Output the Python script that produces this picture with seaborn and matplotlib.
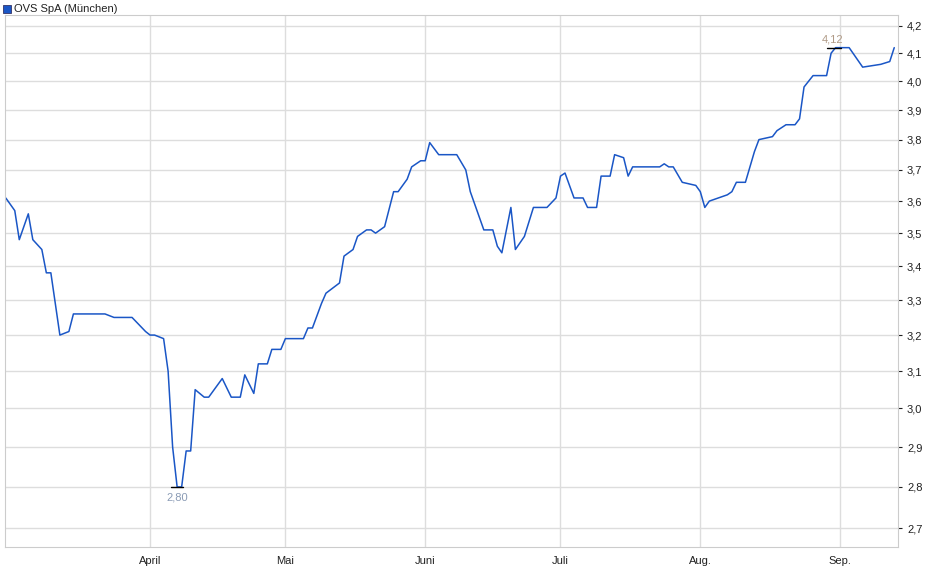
import pandas as pd
import numpy as np
import seaborn as sns
import matplotlib.pyplot as plt
import matplotlib.dates as mdates
from matplotlib.ticker import FixedLocator, NullLocator

dates = [
    "2023-02-28", "2023-03-01", "2023-03-02", "2023-03-03", "2023-03-05", "2023-03-06",
    "2023-03-08", "2023-03-09", "2023-03-10", "2023-03-12", "2023-03-14", "2023-03-15",
    "2023-03-22", "2023-03-24", "2023-03-28", "2023-03-31", "2023-04-01", "2023-04-02",
    "2023-04-04", "2023-04-05", "2023-04-06", "2023-04-07", "2023-04-08", "2023-04-09",
    "2023-04-10", "2023-04-11", "2023-04-13", "2023-04-14", "2023-04-17", "2023-04-19",
    "2023-04-21", "2023-04-22", "2023-04-24", "2023-04-25", "2023-04-27", "2023-04-28",
    "2023-04-30", "2023-05-01", "2023-05-05", "2023-05-06", "2023-05-07", "2023-05-09",
    "2023-05-10", "2023-05-12", "2023-05-13", "2023-05-14", "2023-05-15", "2023-05-16",
    "2023-05-17", "2023-05-19", "2023-05-20", "2023-05-21", "2023-05-23", "2023-05-25",
    "2023-05-26", "2023-05-28", "2023-05-29", "2023-05-31", "2023-06-01", "2023-06-02",
    "2023-06-04", "2023-06-08", "2023-06-10", "2023-06-11", "2023-06-14", "2023-06-16",
    "2023-06-17", "2023-06-18", "2023-06-20", "2023-06-21", "2023-06-23", "2023-06-25",
    "2023-06-28", "2023-06-30", "2023-07-01", "2023-07-02", "2023-07-04", "2023-07-06",
    "2023-07-07", "2023-07-09", "2023-07-10", "2023-07-12", "2023-07-13", "2023-07-15",
    "2023-07-16", "2023-07-17", "2023-07-23", "2023-07-24", "2023-07-25", "2023-07-26",
    "2023-07-28", "2023-07-31", "2023-08-01", "2023-08-02", "2023-08-03", "2023-08-05",
    "2023-08-07", "2023-08-08", "2023-08-09", "2023-08-11", "2023-08-13", "2023-08-14",
    "2023-08-17", "2023-08-18", "2023-08-20", "2023-08-22", "2023-08-23", "2023-08-24",
    "2023-08-26", "2023-08-29", "2023-08-30", "2023-08-31", "2023-09-03", "2023-09-06",
    "2023-09-10", "2023-09-12", "2023-09-13",
]
prices = [
    3.61, 3.59, 3.57, 3.48, 3.56, 3.48,
    3.45, 3.38, 3.38, 3.20, 3.21, 3.26,
    3.26, 3.25, 3.25, 3.21, 3.20, 3.20,
    3.19, 3.10, 2.90, 2.80, 2.80, 2.89,
    2.89, 3.05, 3.03, 3.03, 3.08, 3.03,
    3.03, 3.09, 3.04, 3.12, 3.12, 3.16,
    3.16, 3.19, 3.19, 3.22, 3.22, 3.29,
    3.32, 3.34, 3.35, 3.43, 3.44, 3.45,
    3.49, 3.51, 3.51, 3.50, 3.52, 3.63,
    3.63, 3.67, 3.71, 3.73, 3.73, 3.79,
    3.75, 3.75, 3.70, 3.63, 3.51, 3.51,
    3.46, 3.44, 3.58, 3.45, 3.49, 3.58,
    3.58, 3.61, 3.68, 3.69, 3.61, 3.61,
    3.58, 3.58, 3.68, 3.68, 3.75, 3.74,
    3.68, 3.71, 3.71, 3.72, 3.71, 3.71,
    3.66, 3.65, 3.63, 3.58, 3.60, 3.61,
    3.62, 3.63, 3.66, 3.66, 3.76, 3.80,
    3.81, 3.83, 3.85, 3.85, 3.87, 3.98,
    4.02, 4.02, 4.10, 4.12, 4.12, 4.05,
    4.06, 4.07, 4.12,
]
y_ticks = [2.7, 2.8, 2.9, 3.0, 3.1, 3.2, 3.3, 3.4, 3.5, 3.6, 3.7, 3.8, 3.9, 4.0, 4.1, 4.2]
month_ticks = ["2023-04-01", "2023-05-01", "2023-06-01", "2023-07-01", "2023-08-01", "2023-09-01"]
month_labels = ["April", "Mai", "Juni", "Juli", "Aug.", "Sep."]

df = pd.DataFrame({"date": pd.to_datetime(dates), "price": prices})

sns.set_style("white")
plt.rcParams["font.family"] = ["Liberation Sans", "DejaVu Sans"]

fig = plt.figure(figsize=(9.4, 5.79), dpi=100)
ax = fig.add_axes([5 / 940, 32 / 579, 893 / 940, 532 / 579])
sns.lineplot(data=df, x="date", y="price", ax=ax, color="#1a56c6", linewidth=1.1)

ax.set_yscale("log")
ax.set_ylim(2.656, 4.24)
ax.set_xlim(pd.Timestamp("2023-02-27 20:00"), pd.Timestamp("2023-09-13 20:00"))
ax.yaxis.set_major_locator(FixedLocator(y_ticks))
ax.yaxis.set_minor_locator(NullLocator())
ax.set_yticklabels([f"{v:.1f}".replace(".", ",") for v in y_ticks])
ax.yaxis.tick_right()
ax.set_xticks(pd.to_datetime(month_ticks))
ax.set_xticklabels(month_labels)
ax.tick_params(labelsize=8, colors="#222222", length=3)
ax.grid(True, color="#dddddd", linewidth=1)
ax.set_axisbelow(True)
for s in ax.spines.values():
    s.set_color("#cccccc")
ax.set_xlabel("")
ax.set_ylabel("")

lo = df.loc[df["price"].idxmin()]
hi = df.loc[df["price"].idxmax()]
ax.plot([lo["date"] - pd.Timedelta(hours=30), lo["date"] + pd.Timedelta(hours=30)], [lo["price"]] * 2, color="black", lw=1)
ax.plot([hi["date"] - pd.Timedelta(hours=48), hi["date"] + pd.Timedelta(hours=30)], [hi["price"]] * 2, color="black", lw=1)
ax.annotate("2,80", (lo["date"], lo["price"]), xytext=(0, -4), textcoords="offset points",
            ha="center", va="top", fontsize=8, color="#8a9bb5")
ax.annotate("4,12", (hi["date"], hi["price"]), xytext=(-2, 2), textcoords="offset points",
            ha="center", va="bottom", fontsize=8, color="#b09a86")

fig.patches.append(plt.Rectangle((3 / 940, 1 - 13 / 579), 8 / 940, 8 / 579, transform=fig.transFigure,
                                 facecolor="#1a56c6", edgecolor="#333366", lw=0.6))
fig.text(14 / 940, 1 - 9 / 579, "OVS SpA (München)", fontsize=8, va="center", color="#222222")

fig.savefig("out.png", dpi=100)
